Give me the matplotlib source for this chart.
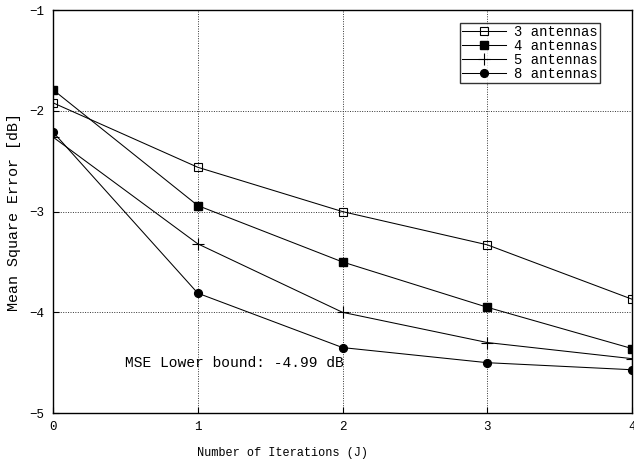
import matplotlib
matplotlib.use("Agg")
import matplotlib.pyplot as plt

iterations = [0, 1, 2, 3, 4]
mse_3 = [-1.92, -2.56, -3.00, -3.33, -3.87]
mse_4 = [-1.79, -2.94, -3.50, -3.95, -4.36]
mse_5 = [-2.26, -3.32, -4.00, -4.30, -4.46]
mse_8 = [-2.21, -3.81, -4.35, -4.50, -4.57]
labels = ["3 antennas", "4 antennas", "5 antennas", "8 antennas"]

plt.rcParams['font.family'] = ['Liberation Mono', 'DejaVu Sans Mono']

fig = plt.figure(figsize=(6.34, 4.61), dpi=100)
ax = fig.add_axes([0.0836, 0.104, 0.9134, 0.874])

lw = 0.75
ax.plot(iterations, mse_3, color='black', lw=lw, marker='s', mfc='none', mec='black', ms=6, mew=0.8, label=labels[0])
ax.plot(iterations, mse_4, color='black', lw=lw, marker='s', mfc='black', mec='black', ms=6.3, label=labels[1])
ax.plot(iterations, mse_5, color='black', lw=lw, marker='+', ms=8, mew=0.8, label=labels[2])
ax.plot(iterations, mse_8, color='black', lw=lw, marker='o', mfc='black', ms=5.6, label=labels[3])

ax.set_xlim(0, 4)
ax.set_ylim(-5, -1)
ax.set_xticks([0, 1, 2, 3, 4])
ax.set_yticks([-5, -4, -3, -2, -1])
ax.grid(True, linestyle=(0, (1, 1.5)), color='#333333', lw=0.7)
ax.tick_params(direction='in', length=4, labelsize=9, colors='black', pad=6)
for s in ax.spines.values():
    s.set_linewidth(1.0)

ax.set_xlabel("Number of Iterations (J)", fontsize=8.6, labelpad=9)
ax.xaxis.set_label_coords(0.396, -0.085)
ax.set_ylabel("Mean Square Error [dB]", fontsize=10.8, labelpad=6)

ax.text(0.5, -4.5, "MSE Lower bound: -4.99 dB", fontsize=10.5, va='center', ha='left')

leg = ax.legend(loc='upper right', bbox_to_anchor=(0.945, 0.968), fontsize=10, frameon=True,
                fancybox=False, edgecolor='black', handlelength=3.2, labelspacing=0.0,
                borderpad=0.15, handletextpad=0.6, borderaxespad=0.0)
leg.get_frame().set_linewidth(1.0)

fig.savefig("out.png", dpi=100)
